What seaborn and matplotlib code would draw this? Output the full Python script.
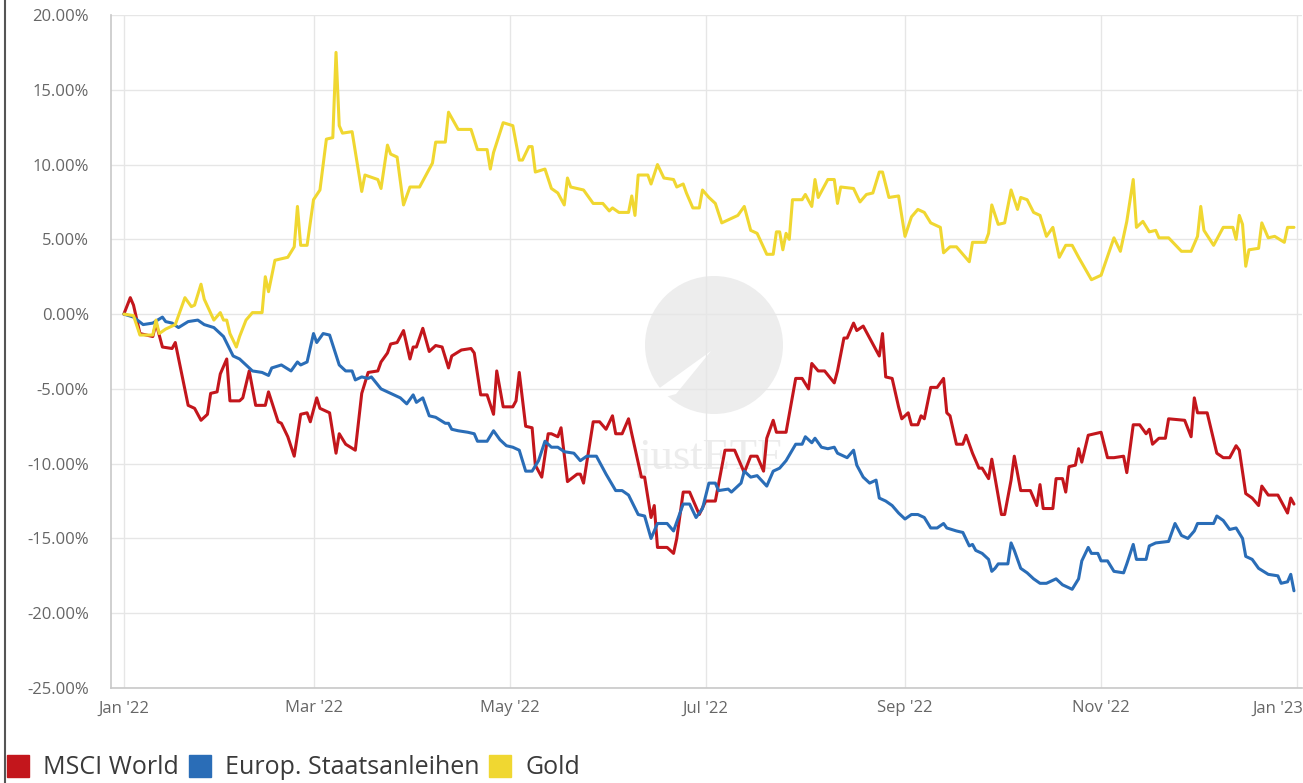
import pandas as pd
import matplotlib
matplotlib.use("Agg")
import matplotlib.pyplot as plt
import matplotlib.dates as mdates
import matplotlib.transforms as mtransforms
import seaborn as sns
from matplotlib.ticker import FuncFormatter, MultipleLocator
from matplotlib.lines import Line2D
from matplotlib.patches import Ellipse, Polygon

# Performance 2022 (in %), x = days since 1 Jan 2022
series_names = ["MSCI World", "Europ. Staatsanleihen", "Gold"]
series_colors = ["#c3161c", "#2a6db7", "#f0d731"]

msci_days = [0, 2, 3, 5, 9, 10, 12, 15, 16, 20,
             22, 24, 26, 27, 29, 30, 32, 33, 36, 37,
             39, 41, 44, 45, 48, 49, 51, 53, 55, 57,
             58, 60, 61, 64, 66, 67, 69, 72, 74, 76,
             79, 80, 82, 83, 85, 87, 89, 90, 91, 93,
             95, 97, 99, 101, 102, 105, 108, 109, 111, 113,
             115, 116, 118, 121, 122, 123, 125, 127, 128, 130,
             132, 133, 135, 136, 138, 141, 142, 143, 146, 148,
             150, 152, 153, 155, 157, 158, 161, 162, 164, 165,
             166, 169, 171, 172, 174, 176, 179, 181, 184, 187,
             190, 193, 195, 197, 199, 200, 202, 203, 206, 209,
             211, 213, 214, 216, 218, 221, 222, 224, 225, 227,
             228, 230, 231, 234, 235, 236, 237, 239, 241, 242,
             244, 245, 247, 248, 249, 251, 253, 255, 256, 257,
             259, 261, 262, 264, 266, 267, 269, 270, 273, 274,
             276, 277, 279, 282, 284, 285, 286, 289, 290, 292,
             293, 294, 296, 297, 298, 300, 304, 306, 308, 311,
             312, 314, 316, 318, 319, 320, 322, 324, 325, 330,
             332, 333, 334, 337, 340, 342, 344, 346, 347, 349,
             351, 353, 354, 356, 359, 362, 363, 364]
msci_vals = [0.0, 1.1, 0.6, -1.3, -1.5, -0.6, -2.2, -2.3, -1.9, -6.1,
             -6.3, -7.1, -6.7, -5.3, -5.2, -4.0, -3.0, -5.8, -5.8, -5.6,
             -3.8, -6.1, -6.1, -5.2, -7.2, -7.3, -8.2, -9.5, -6.7, -6.6,
             -7.2, -5.6, -6.3, -6.6, -9.3, -8.0, -8.7, -9.1, -5.3, -3.9,
             -3.8, -3.2, -2.6, -2.0, -1.9, -1.1, -3.0, -2.2, -2.2, -0.95,
             -2.5, -2.1, -2.2, -3.6, -2.8, -2.4, -2.3, -2.6, -5.4, -5.4,
             -6.7, -3.8, -6.2, -6.2, -5.8, -3.9, -7.5, -7.6, -10.1, -10.9,
             -8.0, -8.0, -8.2, -7.6, -11.2, -10.7, -10.7, -11.3, -7.2, -7.2,
             -7.7, -6.8, -8.0, -8.0, -7.0, -8.0, -10.9, -10.9, -13.6, -12.8,
             -15.6, -15.6, -16.0, -15.0, -11.9, -11.9, -13.4, -12.5, -12.5, -9.1,
             -9.1, -10.6, -9.5, -9.5, -10.5, -8.3, -7.1, -7.9, -7.9, -4.3,
             -4.3, -5.0, -3.3, -3.8, -3.8, -4.6, -3.8, -1.6, -1.6, -0.6,
             -1.1, -0.8, -1.2, -2.4, -2.8, -1.3, -4.2, -4.3, -6.2, -7.0,
             -6.6, -7.4, -7.4, -6.8, -7.0, -4.9, -4.9, -4.3, -6.6, -6.8,
             -8.7, -8.7, -8.1, -9.3, -10.3, -10.3, -11.0, -9.7, -13.4, -13.4,
             -11.1, -9.5, -11.8, -11.8, -12.8, -11.4, -13.0, -13.0, -11.0, -11.0,
             -11.9, -10.2, -10.1, -9.0, -9.9, -8.1, -7.9, -9.6, -9.6, -9.5,
             -10.6, -7.4, -7.4, -8.0, -7.7, -8.7, -8.3, -8.3, -7.0, -7.1,
             -8.2, -5.6, -6.6, -6.6, -9.3, -9.6, -9.6, -8.8, -9.1, -12.0,
             -12.3, -12.8, -11.5, -12.1, -12.1, -13.3, -12.3, -12.7]

bond_days = [0, 3, 6, 9, 12, 13, 15, 17, 20, 23,
             25, 28, 31, 34, 36, 38, 40, 43, 45, 46,
             49, 52, 54, 55, 57, 59, 60, 62, 64, 67,
             69, 71, 72, 74, 76, 77, 80, 82, 84, 86,
             88, 90, 91, 93, 95, 97, 100, 101, 102, 104,
             107, 109, 110, 113, 115, 117, 119, 121, 123, 125,
             127, 129, 131, 133, 135, 137, 140, 142, 144, 147,
             150, 153, 155, 157, 160, 162, 164, 166, 169, 171,
             174, 176, 178, 180, 182, 184, 185, 188, 189, 192,
             193, 195, 197, 200, 202, 204, 206, 209, 211, 212,
             214, 215, 217, 219, 221, 222, 225, 227, 228, 230,
             232, 234, 235, 237, 239, 241, 243, 245, 247, 249,
             251, 253, 255, 256, 259, 261, 263, 264, 265, 267,
             269, 270, 271, 272, 275, 276, 277, 279, 281, 283,
             285, 287, 290, 292, 295, 297, 298, 300, 301, 303,
             304, 306, 308, 311, 312, 314, 315, 318, 319, 321,
             325, 327, 329, 331, 333, 334, 336, 339, 340, 342,
             344, 346, 348, 349, 351, 353, 356, 359, 360, 362,
             363, 364]
bond_vals = [0.0, -0.2, -0.7, -0.6, -0.2, -0.5, -0.6, -0.9, -0.5, -0.4,
             -0.7, -0.9, -1.5, -2.8, -3.0, -3.4, -3.8, -3.9, -4.1, -3.6,
             -3.4, -3.8, -3.2, -3.4, -3.2, -1.3, -1.9, -1.3, -1.4, -3.4,
             -3.8, -3.8, -4.4, -4.2, -4.3, -4.2, -5.0, -5.2, -5.4, -5.6,
             -6.0, -5.4, -5.9, -5.6, -6.8, -6.9, -7.3, -7.3, -7.7, -7.8,
             -7.9, -8.0, -8.5, -8.5, -7.8, -8.4, -8.8, -8.9, -9.1, -10.5,
             -10.5, -9.8, -8.5, -8.9, -8.9, -9.2, -9.3, -9.8, -9.5, -9.5,
             -10.7, -11.8, -11.8, -12.1, -13.4, -13.5, -15.0, -14.0, -14.0, -14.5,
             -12.7, -12.7, -13.6, -13.0, -11.3, -11.3, -11.8, -11.7, -11.9, -11.3,
             -10.5, -10.9, -10.8, -11.5, -10.5, -10.3, -9.8, -8.7, -8.7, -8.2,
             -8.6, -8.3, -8.9, -9.0, -8.9, -9.3, -9.6, -9.1, -10.1, -10.9,
             -11.3, -11.1, -12.3, -12.5, -12.8, -13.3, -13.7, -13.4, -13.4, -13.6,
             -14.3, -14.3, -14.0, -14.3, -14.5, -14.6, -15.5, -15.4, -15.8, -16.0,
             -16.4, -17.2, -17.0, -16.7, -16.7, -15.3, -15.8, -17.0, -17.3, -17.7,
             -18.0, -18.0, -17.7, -18.1, -18.4, -17.7, -16.5, -15.6, -16.0, -16.0,
             -16.5, -16.5, -17.2, -17.3, -16.7, -15.4, -16.4, -16.4, -15.5, -15.3,
             -15.2, -14.0, -14.8, -15.0, -14.5, -14.0, -14.0, -14.0, -13.5, -13.8,
             -14.4, -14.3, -15.0, -16.2, -16.4, -17.0, -17.4, -17.5, -18.0, -17.9,
             -17.4, -18.5]

gold_days = [0, 3, 5, 9, 10, 11, 13, 16, 19, 21,
             22, 24, 25, 28, 30, 31, 32, 33, 35, 36,
             38, 40, 43, 44, 45, 47, 51, 53, 54, 55,
             57, 59, 61, 63, 65, 66, 67, 68, 71, 74,
             75, 79, 80, 82, 83, 85, 87, 89, 92, 96,
             97, 100, 101, 104, 108, 110, 113, 114, 115, 118,
             121, 123, 124, 126, 127, 128, 131, 133, 135, 137,
             138, 139, 143, 146, 149, 151, 152, 154, 157, 158,
             159, 160, 163, 164, 166, 168, 171, 172, 174, 175,
             177, 179, 180, 182, 184, 186, 189, 191, 193, 195,
             197, 200, 202, 203, 204, 205, 206, 207, 208, 211,
             212, 214, 215, 216, 219, 221, 222, 223, 227, 229,
             231, 233, 235, 236, 238, 241, 243, 245, 247, 249,
             251, 254, 255, 257, 259, 263, 264, 268, 269, 270,
             272, 274, 276, 278, 279, 281, 283, 285, 287, 289,
             291, 293, 295, 297, 301, 304, 308, 310, 312, 314,
             315, 317, 319, 321, 322, 325, 329, 332, 334, 335,
             336, 339, 342, 345, 346, 347, 348, 349, 350, 353,
             354, 356, 358, 361, 362, 364]
gold_vals = [0.0, -0.1, -1.4, -1.4, -0.4, -1.3, -1.0, -0.7, 1.1, 0.5,
             0.6, 2.0, 1.0, -0.4, 0.1, -0.4, -0.4, -1.3, -2.2, -1.5,
             -0.4, 0.1, 0.1, 2.5, 1.5, 3.6, 3.8, 4.5, 7.2, 4.6,
             4.6, 7.65, 8.3, 11.7, 11.8, 17.5, 12.6, 12.1, 12.2, 8.2,
             9.3, 9.0, 8.4, 11.3, 10.7, 10.5, 7.3, 8.5, 8.5, 10.1,
             11.5, 11.5, 13.5, 12.35, 12.35, 11.0, 11.0, 9.7, 10.8, 12.8,
             12.6, 10.3, 10.3, 11.2, 11.2, 9.5, 9.7, 8.4, 8.1, 7.3,
             9.1, 8.5, 8.3, 7.4, 7.4, 6.9, 7.1, 6.8, 6.8, 7.9,
             6.6, 9.3, 9.3, 8.7, 10.0, 9.1, 9.0, 8.5, 8.7, 8.1,
             7.1, 7.1, 8.3, 7.8, 7.4, 6.1, 6.4, 6.6, 7.2, 5.6,
             5.4, 4.0, 4.0, 5.5, 5.5, 4.3, 5.4, 5.0, 7.65, 7.65,
             8.0, 7.2, 9.0, 7.8, 9.0, 9.0, 7.4, 8.5, 8.4, 7.5,
             8.0, 8.1, 9.5, 9.5, 7.8, 7.9, 5.2, 6.5, 7.0, 6.8,
             6.1, 5.8, 4.1, 4.5, 4.5, 3.5, 4.8, 4.8, 5.4, 7.3,
             6.0, 6.1, 8.3, 7.0, 7.8, 7.65, 6.8, 6.6, 5.2, 5.8,
             3.8, 4.6, 4.6, 3.8, 2.3, 2.6, 5.1, 4.2, 6.2, 9.0,
             5.8, 6.2, 5.5, 5.6, 5.1, 5.1, 4.2, 4.2, 5.2, 7.2,
             5.6, 4.6, 5.8, 5.8, 5.0, 6.6, 6.0, 3.2, 4.3, 4.4,
             6.1, 5.1, 5.2, 4.8, 5.8, 5.8]

start = pd.Timestamp("2022-01-01")


def make_frame(name, days, vals):
    return pd.DataFrame({
        "date": start + pd.to_timedelta(days, unit="D"),
        "value": vals,
        "series": name,
    })


df = pd.concat([
    make_frame(series_names[0], msci_days, msci_vals),
    make_frame(series_names[1], bond_days, bond_vals),
    make_frame(series_names[2], gold_days, gold_vals),
], ignore_index=True)

sns.set_style("white")
plt.rcParams["font.family"] = ["Open Sans", "DejaVu Sans"]

W, H = 1303, 783
fig = plt.figure(figsize=(W / 100, H / 100), dpi=100)
ax = fig.add_axes([111 / W, 1 - 688 / H, (1302 - 111) / W, (688 - 15) / H])


# watermark (justETF logo)
def px(x, y):
    return ((x - 111) / 1191, (688 - y) / 673)


ax.add_patch(Ellipse(px(714, 345), 138 / 1191, 138 / 673, transform=ax.transAxes,
                     color="#ededed", zorder=0.2, lw=0))
ax.add_patch(Polygon([px(711, 351), px(636, 405), px(676, 394)], closed=True,
                     transform=ax.transAxes, color="white", zorder=0.3, lw=0))
ax.text(*px(710, 458), "justETF", transform=ax.transAxes, ha="center", va="center",
        fontsize=32, color="#ececec", family="Liberation Serif", zorder=0.3)

sns.lineplot(data=df, x="date", y="value", hue="series", hue_order=series_names,
             palette=series_colors, linewidth=2.2, estimator=None, legend=False,
             ax=ax, zorder=3)

ax.set_xlim(start - pd.Timedelta(days=4), start + pd.Timedelta(days=366.5))
ax.set_ylim(-25, 20)
ax.yaxis.set_major_locator(MultipleLocator(5))
ax.yaxis.set_major_formatter(FuncFormatter(lambda v, p: f"{v:.2f}%"))
ax.xaxis.set_major_locator(mdates.MonthLocator(bymonth=[1, 3, 5, 7, 9, 11]))
ax.xaxis.set_major_formatter(mdates.DateFormatter("%b '%y"))
ax.set_xlabel("")
ax.set_ylabel("")

ax.grid(True, color="#e6e6e6", linewidth=1)
ax.set_axisbelow(True)
for s in ["top", "right"]:
    ax.spines[s].set_visible(False)
for s in ["left", "bottom"]:
    ax.spines[s].set_color("#c8c8c8")
    ax.spines[s].set_linewidth(1.2)
ax.tick_params(axis="both", length=0, labelsize=12, colors="#666666")
ax.tick_params(axis="y", pad=16)
ax.tick_params(axis="x", pad=9)

# keep the last label ("Jan '23") inside the picture, as in the original
fig.canvas.draw()
last = ax.get_xticklabels()[-1]
last.set_horizontalalignment("right")
last.set_transform(last.get_transform() +
                   mtransforms.ScaledTranslation(6 / 100, 0, fig.dpi_scale_trans))

handles = [Line2D([], [], linestyle="", marker="s", markersize=16,
                  markerfacecolor=c, markeredgecolor=c) for c in series_colors]
fig.legend(handles, series_names, loc="lower left", bbox_to_anchor=(0.002, 0.0),
           ncol=3, frameon=False, fontsize=18, handlelength=1.0, handletextpad=0.5,
           columnspacing=0.35, borderpad=0.1, borderaxespad=0, labelcolor="#3a3a3a")

# screenshot frame line on the left
fig.add_artist(Line2D([4.5 / W, 4.5 / W], [0, 1], color="#555555", linewidth=1.5))

fig.savefig("out.png", dpi=100)
